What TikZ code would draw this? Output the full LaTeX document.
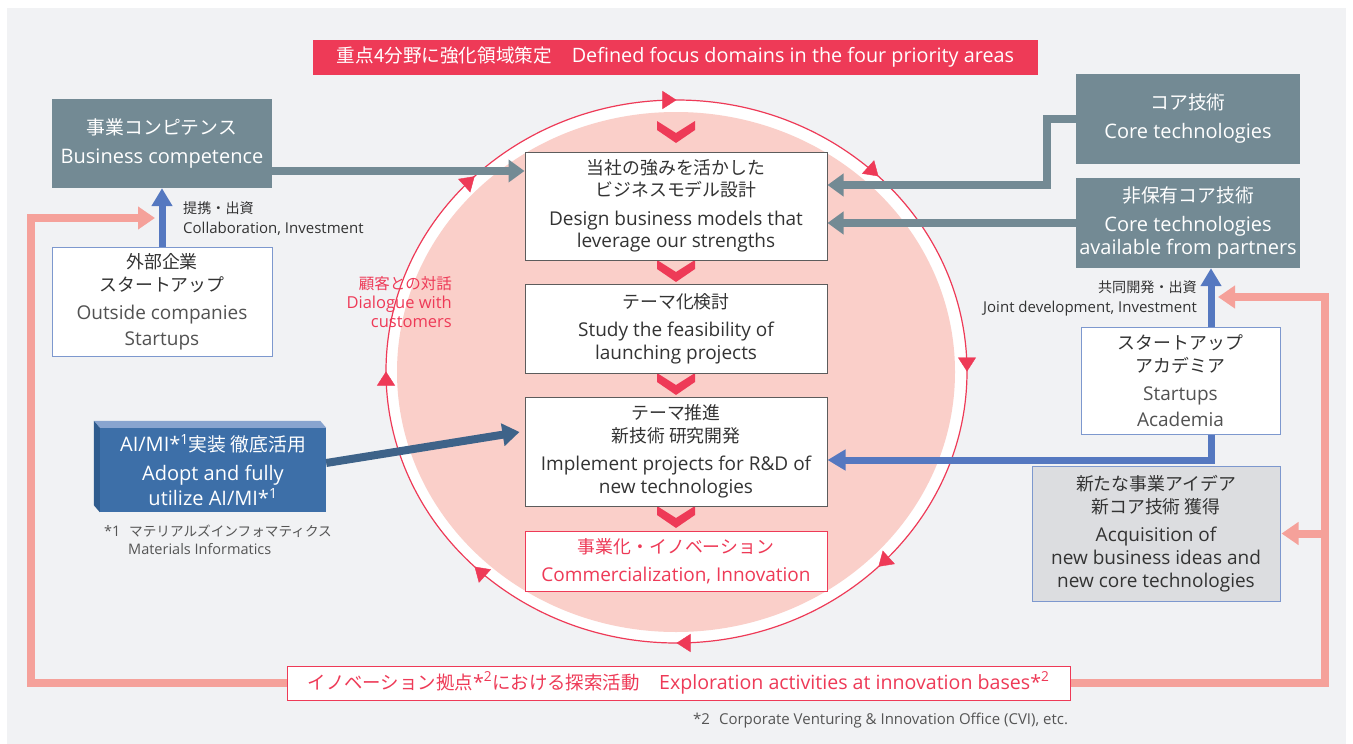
\documentclass[tikz,border=0pt]{standalone}
\usepackage{fontspec}
\setmainfont{Open Sans}
\newfontfamily\jp[Scale=0.94]{Noto Sans CJK JP}
\usepackage{xcolor}
\usetikzlibrary{arrows.meta, positioning, decorations.markings}

\definecolor{bgray}{HTML}{F1F2F4}
\definecolor{focusred}{HTML}{EE3A57}
\definecolor{slate}{HTML}{738A94}
\definecolor{blush}{HTML}{FACFC9}
\definecolor{salmon}{HTML}{F5A19A}
\definecolor{linkblue}{HTML}{5578C0}
\definecolor{edgeblue}{HTML}{7D98CE}
\definecolor{aiblue}{HTML}{3D6FA8}
\definecolor{aitop}{HTML}{88A4CF}
\definecolor{aiside}{HTML}{2F5C8E}
\definecolor{aiarrow}{HTML}{3E6389}
\definecolor{ink}{HTML}{333333}
\definecolor{ideagray}{HTML}{DCDDE0}
\definecolor{notegray}{HTML}{555555}

\begin{document}
\begin{tikzpicture}[x=1pt, y=-1pt,
    box/.style={draw=ink!80, line width=1pt, fill=white, text=ink, align=center,
        inner sep=0pt, minimum width=302pt, font=\fontsize{19}{22.5}\selectfont},
    slatebox/.style={fill=slate, text=white, align=center, inner sep=0pt,
        minimum width=224pt, minimum height=90pt, font=\fontsize{20}{23}\selectfont},
    partnerbox/.style={draw=edgeblue, line width=1pt, fill=white, text=ink, align=center,
        inner sep=0pt, font=\fontsize{19}{23}\selectfont},
    slatearrow/.style={draw=slate, line width=8pt, -{Triangle[width=22pt,length=16pt]}},
    bluearrow/.style={draw=linkblue, line width=7pt, -{Triangle[width=20pt,length=18pt]}},
    salmonline/.style={draw=salmon, line width=8pt},
    salmonarrow/.style={salmonline, -{Triangle[width=22pt,length=17pt]}},
    linktext/.style={font=\fontsize{15}{20}\selectfont, text=ink, inner sep=0pt},
    fnote/.style={font=\fontsize{14.5}{18}\selectfont, text=notegray, inner sep=0pt},
    chev/.pic={\fill[focusred] (-19,0) -- (0,12) -- (19,0) -- (19,9) -- (0,22) -- (-19,9) -- cycle;}]

    % Canvas
    \useasboundingbox (0,0) rectangle (1353,744);
    \fill[bgray] (7,8) rectangle (1346,744);

    % Cycle ring
    \draw[focusred, line width=1.2pt, fill=white] (676.5,371.5) ellipse [x radius=290.5pt, y radius=271.5pt];
    \fill[blush] (676,372) ellipse [x radius=279pt, y radius=260pt];
    \path[decorate, decoration={markings,
        mark=between positions 0 and 0.9 step 0.125 with
        {\arrowreversed{Triangle[length=14pt,width=18pt,color=focusred]}}}]
        (676.5,371.5) ellipse [x radius=290.5pt, y radius=271.5pt];

    % Chevrons between steps
    \foreach \cy in {121,260,373,506}
        \pic at (676,\cy) {chev};

    % Top banner
    \node[fill=focusred, text=white, minimum width=725pt, minimum height=35pt, inner sep=0pt,
        font=\fontsize{19.8}{22}\selectfont] (focus) at (675.5,57.5)
        {{\jp 重点4分野に強化領域策定}\hspace{1em}Defined focus domains in the four priority areas};

    % Process steps
    \node[box, minimum height=108pt] (dbm) at (676,206)
        {{\jp 当社の強みを活かした}\\{\jp ビジネスモデル設計}\\[6pt]Design business models that\\leverage our strengths};
    \node[box, minimum height=89pt] (theme) at (676,328.5)
        {{\jp テーマ化検討}\\[6pt]Study the feasibility of\\launching projects};
    \node[box, minimum height=109pt] (impl) at (676,451.5)
        {{\jp テーマ推進}\\{\jp 新技術 研究開発}\\[6pt]Implement projects for R\&D of\\new technologies};
    \node[box, draw=focusred, text=focusred, minimum height=60pt] (comm) at (676,561)
        {{\jp 事業化・イノベーション}\\[5pt]Commercialization, Innovation};

    % Left side
    \node[slatebox, minimum width=220pt, minimum height=89pt] (bc) at (162,143.5)
        {{\jp 事業コンピテンス}\\[6pt]Business competence};
    \node[partnerbox, minimum width=220pt, minimum height=109pt] (ext) at (162,301.5)
        {{\jp 外部企業}\\{\jp スタートアップ}\\[5pt]{\color{ink!85}Outside companies}\\[3pt]{\color{ink!85}Startups}};
    \node[fill=aiblue, text=white, align=center, inner sep=0pt, minimum width=226pt, minimum height=84pt,
        font=\fontsize{20}{25}\selectfont] (ai) at (213,470)
        {AI/MI*\textsuperscript{1}{\jp 実装 徹底活用}\\[4pt]Adopt and fully\\utilize AI/MI*\textsuperscript{1}};
    \fill[aitop] (ai.north west) -- ++(-6,-7) -- ([shift={(-6,-7)}]ai.north east) -- (ai.north east) -- cycle;
    \fill[aiside] (ai.north west) -- ++(-6,-7) -- ([shift={(-6,-7)}]ai.south west) -- (ai.south west) -- cycle;

    % Right side
    \node[slatebox] (core) at (1188,119) {{\jp コア技術}\\[6pt]Core technologies};
    \node[slatebox] (ncore) at (1188,223) {{\jp 非保有コア技術}\\[6pt]Core technologies\\available from partners};
    \node[partnerbox, minimum width=199pt, minimum height=107pt] (sa) at (1180.5,380.5)
        {{\jp スタートアップ}\\{\jp アカデミア}\\[5pt]{\color{ink!85}Startups}\\[3pt]{\color{ink!85}Academia}};
    \node[partnerbox, fill=ideagray, minimum width=248pt, minimum height=135pt] (ideas) at (1156,533.5)
        {{\jp 新たな事業アイデア}\\{\jp 新コア技術 獲得}\\[5pt]Acquisition of\\new business ideas and\\new core technologies};

    % Links into the steps
    \draw[slatearrow] ([yshift=-27.5pt]bc.east) coordinate (bcout) -- (bcout -| dbm.west);
    \draw[slatearrow] (core.west) -- ++(-29,0) |- ([yshift=21pt]dbm.east);
    \draw[slatearrow] (ncore.west) -- (ncore.west -| dbm.east);
    \draw[draw=aiarrow, line width=8pt, -{Triangle[width=22pt,length=17pt]}]
        ([yshift=7pt]ai.east) -- ([yshift=19.5pt, xshift=-5pt]impl.west);
    \draw[bluearrow] (ext.north) -- (bc.south);
    \draw[bluearrow] ([xshift=30.5pt]sa.north) coordinate (saup) -- (saup |- ncore.south);
    \draw[bluearrow] ([xshift=30.5pt]sa.south) |- ([yshift=-8.5pt]impl.east);

    % Exploration loop
    \node[draw=focusred, line width=1pt, fill=white, text=focusred, minimum width=783pt, minimum height=34pt,
        inner sep=0pt, font=\fontsize{19.6}{22}\selectfont] (inno) at (678.5,683)
        {{\jp イノベーション拠点}*\textsuperscript{2}{\jp における探索活動}\hspace{1em}Exploration activities at innovation bases*\textsuperscript{2}};
    \coordinate (lturn) at (31,218);
    \coordinate (rturn) at (1325,297);
    \draw[salmonarrow] (inno.west) -| (lturn) -- ++(124,0);
    \draw[salmonarrow] (inno.east) -| (rturn) -- ++(-107,0);
    \draw[salmonarrow] (rturn |- ideas.east) -- ([xshift=1pt]ideas.east);

    % Labels
    \node[linktext, anchor=west, align=left] (collab) at (183,219) {{\jp 提携・出資}\\Collaboration, Investment};
    \node[linktext, anchor=east, align=right] (joint) at (1197,298) {{\jp 共同開発・出資}\\Joint development, Investment};
    \node[linktext, anchor=east, align=right, text=focusred, font=\fontsize{16.5}{19}\selectfont] (talk) at (452,302)
        {{\jp 顧客との対話}\\Dialogue with\\customers};

    % Footnotes
    \node[fnote, anchor=west] (fn1) at (104,531) {*1\hspace{0.6em}{\jp マテリアルズインフォマティクス}};
    \node[fnote, anchor=west] (fn1b) at (128,549) {Materials Informatics};
    \node[fnote, anchor=west, font=\fontsize{15}{18}\selectfont] (fn2) at (693,721)
        {*2\hspace{0.6em}Corporate Venturing \& Innovation Office (CVI), etc.};
\end{tikzpicture}
\end{document}
